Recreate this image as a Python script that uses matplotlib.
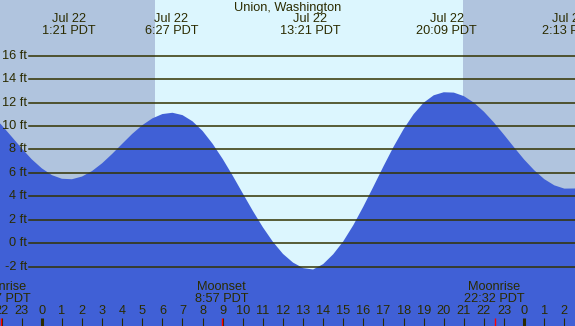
import matplotlib.pyplot as plt
import matplotlib.transforms as mtransforms

# tide height (ft) every half hour, hour 0 = midnight Jul 22
hours = [-2.5, -2.0, -1.5, -1.0, -0.5, 0.0, 0.5, 1.0, 1.5, 2.0,
         2.5, 3.0, 3.5, 4.0, 4.5, 5.0, 5.5, 6.0, 6.5, 7.0,
         7.5, 8.0, 8.5, 9.0, 9.5, 10.0, 10.5, 11.0, 11.5, 12.0,
         12.5, 13.0, 13.5, 14.0, 14.5, 15.0, 15.5, 16.0, 16.5, 17.0,
         17.5, 18.0, 18.5, 19.0, 19.5, 20.0, 20.5, 21.0, 21.5, 22.0,
         22.5, 23.0, 23.5, 24.0, 24.5, 25.0, 25.5, 26.0, 26.5, 27.0]
heights = [10.98, 10.08, 9.09, 8.09, 7.16, 6.39, 5.81, 5.50, 5.46, 5.69,
           6.16, 6.82, 7.62, 8.48, 9.33, 10.07, 10.65, 11.02, 11.13, 10.93,
           10.40, 9.58, 8.48, 7.19, 5.76, 4.25, 2.76, 1.36, 0.12, -0.91,
           -1.65, -2.12, -2.24, -1.78, -0.94, 0.16, 1.54, 3.13, 4.83, 6.56,
           8.22, 9.73, 11.01, 11.99, 12.62, 12.88, 12.85, 12.55, 11.99, 11.22,
           10.29, 9.25, 8.18, 7.14, 6.23, 5.47, 4.94, 4.66, 4.67, 4.80]

# high / low tide times shown along the top
tide_times = [1.35, 6.45, 13.35, 20.15, 26.22]
tide_labels = ["1:21 PDT", "6:27 PDT", "13:21 PDT", "20:09 PDT", "2:13 PDT"]

# moon events shown along the bottom
moon_times = [-2.05, 8.95, 22.53]
moon_names = ["Moonrise", "Moonset", "Moonrise"]
moon_labels = ["21:57 PDT", "8:57 PDT", "22:32 PDT"]

sunrise = 5.63
sunset = 20.97

grid_ft = [-2, 0, 2, 4, 6, 8, 10, 12, 14, 16]
hour_ticks = list(range(-2, 27))

W, H = 575, 326
day_col = "#dcf6fe"
night_col = "#b0c4de"
water_col = "#4060d6"
ink = "#2b2b00"

plt.rcParams["font.family"] = ["Liberation Sans", "DejaVu Sans"]
fs = 9.2

fig = plt.figure(figsize=(W / 100, H / 100), dpi=100)
ax = fig.add_axes([0, 0, 1, 1])
ax.set_xlim(-2.08, 26.53)
ax.set_ylim(-7.06, 20.75)
ax.axis("off")
ax.add_patch(plt.Rectangle((0, 0), 1, 1, transform=ax.transAxes, color=day_col, zorder=0))

# night shading before sunrise and after sunset
ax.axvspan(-5, sunrise, color=night_col, lw=0, zorder=1)
ax.axvspan(sunset, 30, color=night_col, lw=0, zorder=1)

ax.fill_between(hours, heights, -10, color=water_col, lw=0, zorder=2)

trans = mtransforms.blended_transform_factory(ax.transData, ax.transAxes)
trans2 = mtransforms.blended_transform_factory(ax.transAxes, ax.transData)

for ft in grid_ft:
    ax.axhline(ft, xmin=29 / W, xmax=1, color="#333300", lw=1.1, zorder=3)
    ax.text(27 / W, ft, f"{ft} ft", transform=trans2, ha="right", va="center",
            fontsize=fs, color=ink, zorder=4)

ax.text(0.5, 1 - 8 / H, "Union, Washington", transform=ax.transAxes,
        ha="center", va="center", fontsize=fs, color=ink, zorder=4)

for t, lab in zip(tide_times, tide_labels):
    ax.text(t, 1 - 19 / H, "Jul 22", transform=trans, ha="center", va="center",
            fontsize=fs, color=ink, zorder=4)
    ax.text(t, 1 - 31 / H, lab, transform=trans, ha="center", va="center",
            fontsize=fs, color=ink, zorder=4)

for t, name, lab in zip(moon_times, moon_names, moon_labels):
    ax.text(t, 1 - 287 / H, name, transform=trans, ha="center", va="center",
            fontsize=fs, color=ink, zorder=4)
    ax.text(t, 1 - 299 / H, lab, transform=trans, ha="center", va="center",
            fontsize=fs, color=ink, zorder=4)

# hour ticks along the bottom, midnight thicker
for h in hour_ticks:
    ax.text(h, 1 - 311 / H, str(h % 24), transform=trans, ha="center", va="center",
            fontsize=fs, color=ink, zorder=4)
    lw = 2.2 if h % 24 == 0 else 0.8
    ax.plot([h, h], [0, 8 / H], transform=trans, color=ink, lw=lw,
            solid_capstyle="butt", zorder=4)

for t in moon_times:
    ax.plot([t, t], [0, 8 / H], transform=trans, color="red", lw=1.0,
            solid_capstyle="butt", zorder=5)

fig.savefig("out.png", dpi=100)
